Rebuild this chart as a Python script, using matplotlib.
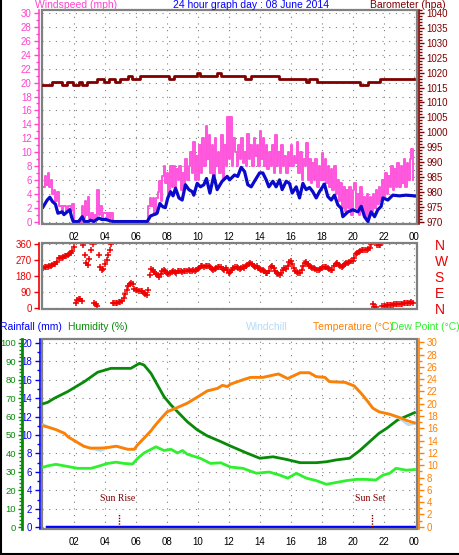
import numpy as np
import matplotlib.pyplot as plt
from matplotlib.patches import Rectangle
from matplotlib.ticker import MultipleLocator

plt.rcParams['font.family'] = ['Liberation Sans', 'DejaVu Sans']

# ---- values ----
baro_hours = [0, 0.6, 1.24, 1.56, 1.95, 2.3, 2.53, 2.85, 3.5, 3.93, 4.25, 4.68, 5.0, 5.48, 5.76, 6.25,
              8.13, 8.45, 9.96, 10.17, 11.25, 11.47, 13.02, 13.45, 15.23, 16.96, 17.2, 17.69,
              20.45, 20.98, 21.78, 24.0]
baro_hpa = [1016, 1017, 1016, 1017, 1016, 1017, 1016, 1017, 1018, 1017, 1018, 1017, 1018, 1019, 1018, 1019,
            1018, 1019, 1020, 1019, 1020, 1019, 1018, 1019, 1018, 1017, 1018, 1017,
            1016, 1017, 1018, 1018]

# gust every 6 minutes
gust_hours = np.arange(0, 24, 0.1)
gust_mph = [5.0, 6.5, 5.2, 7.0, 5.0, 6.0, 4.0, 4.5, 3.0, 4.2,
            2.3, 2.3, 1.3, 2.3, 2.3, 1.5, 2.3, 2.3, 1.5, 2.5,
            0.0, 0.0, 0.0, 0.0, 0.0, 2.3, 0.5, 3.0, 1.0, 3.5,
            0.5, 1.2, 0.0, 1.0, 0.2, 4.6, 1.0, 2.3, 0.5, 1.2,
            1.2, 0.3, 1.2, 0.5, 1.2, 0.0, 0.0, 0.0, 0.0, 0.0,
            0.0, 0.0, 0.0, 0.0, 0.0, 0.0, 0.0, 0.0, 0.0, 0.0,
            0.0, 0.0, 0.0, 0.0, 0.0, 0.0, 0.0, 0.0, 2.3, 3.4,
            2.3, 3.4, 1.0, 3.4, 4.2, 5.8, 3.0, 6.5, 8.0, 5.5,
            7.0, 4.0, 8.0, 5.0, 8.0, 4.5, 7.5, 6.0, 8.0, 4.5,
            7.0, 5.0, 9.0, 6.0, 8.0, 10.0, 7.0, 11.5, 6.0, 9.5,
            6.0, 11.0, 7.0, 12.0, 8.0, 13.7, 9.0, 12.5, 7.0, 11.0,
            6.5, 12.0, 8.0, 10.0, 7.0, 12.5, 6.0, 11.0, 8.0, 15.0,
            9.0, 15.0, 8.0, 12.0, 10.0, 8.0, 11.0, 9.0, 12.0, 8.5,
            10.0, 8.0, 12.6, 9.0, 11.0, 8.0, 12.0, 9.5, 11.0, 8.0,
            13.0, 9.0, 12.0, 8.0, 11.0, 7.5, 10.0, 8.0, 11.0, 7.0,
            12.5, 8.0, 10.0, 7.0, 11.0, 8.0, 9.5, 7.0, 10.0, 8.0,
            11.0, 8.0, 9.5, 8.5, 11.5, 7.0, 10.0, 6.0, 9.0, 8.0,
            11.3, 6.0, 9.0, 5.5, 8.5, 6.0, 9.0, 5.0, 8.0, 6.0,
            9.8, 6.0, 9.0, 5.5, 8.0, 5.0, 7.5, 4.5, 8.0, 4.0,
            6.0, 3.0, 5.5, 2.0, 5.0, 1.5, 4.5, 2.0, 5.0, 1.0,
            4.5, 5.5, 2.0, 4.0, 1.0, 5.0, 1.5, 3.5, 0.5, 4.0,
            1.0, 3.5, 1.5, 4.0, 2.0, 4.5, 2.5, 5.0, 3.0, 6.0,
            3.5, 7.0, 4.0, 6.5, 5.0, 8.0, 4.5, 7.5, 5.0, 8.5,
            5.0, 8.0, 5.5, 9.0, 5.0, 8.5, 6.0, 9.0, 10.5, 6.0]

avg_hours = [0, 0.27, 0.44, 0.6, 0.8, 0.96, 1.24, 1.35, 1.56, 1.73, 1.84, 1.95, 2.3, 2.53, 2.68, 2.9,
             3.07, 3.28, 3.6, 3.8, 4.04, 4.36, 4.53, 6.73, 6.94, 7.16, 7.37, 7.55, 7.7, 7.9, 8.06,
             8.24, 8.4, 8.56, 8.78, 8.99, 9.2, 9.42, 9.64, 9.74, 9.96, 10.17, 10.39, 10.56, 10.78,
             11.03, 11.25, 11.57, 11.9, 12.05, 12.37, 12.58, 12.8, 13.02, 13.23, 13.45, 13.66, 13.99,
             14.2, 14.42, 14.59, 14.85, 15.06, 15.28, 15.45, 15.71, 15.92, 16.1, 16.36, 16.57, 16.79,
             17.0, 17.22, 17.43, 17.65, 17.86, 18.18, 18.4, 18.62, 18.83, 19.05, 19.27, 19.37, 19.7,
             20.02, 20.34, 20.56, 20.77, 20.99, 21.2, 21.42, 21.63, 21.85, 21.96, 22.28, 22.6, 23.03,
             23.46, 24.0]
avg_mph = [2.1, 3.1, 3.5, 2.9, 2.5, 1.2, 1.4, 1.0, 1.4, 1.7, 0.7, 0.0, 0.0, 0.7, 0.0, 0.0,
           0.2, 0.0, 0.5, 0.3, 0.3, 0.1, 0.0, 0.0, 0.8, 1.0, 1.2, 2.6, 2.2, 2.0, 3.4,
           4.3, 3.7, 4.8, 3.4, 3.1, 5.3, 4.6, 4.3, 3.8, 5.5, 5.0, 5.3, 6.2, 4.1,
           6.6, 4.6, 5.8, 6.5, 6.0, 6.7, 6.5, 7.8, 7.2, 5.3, 5.0, 5.8, 7.0,
           7.0, 6.0, 5.0, 5.8, 5.0, 6.0, 4.6, 5.8, 5.5, 4.1, 5.0, 3.4, 5.5,
           4.6, 4.9, 4.3, 3.4, 4.3, 5.4, 3.6, 3.1, 3.8, 2.4, 1.9, 0.7, 1.4,
           1.7, 1.4, 2.2, 0.7, 0.0, 1.4, 0.7, 1.7, 2.2, 3.4, 3.1, 3.8, 3.7,
           3.8, 3.7]

# wind direction every 6 minutes (degrees)
dir_hours = np.arange(0, 24, 0.1)
dir_deg = [228, 230, 232, 234, 236, 240, 244, 248, 250, 262,
           280, 282, 284, 290, 295, 296, 300, 303, 308, 320,
           345, 30, 48, 52, 50, 40, 355, 300, 255, 245,
           275, 330, 360, 30, 25, 15, 300, 230, 215, 220,
           250, 270, 300, 330, 360, 32, 32, 32, 32, 33,
           33, 40, 60, 80, 100, 125, 138, 140, 135, 110,
           100, 100, 99, 98, 98, 88, 78, 75, 100, 185,
           220, 215, 205, 195, 185, 178, 195, 210, 218, 210,
           200, 195, 197, 205, 210, 205, 200, 208, 212, 212,
           205, 210, 212, 212, 215, 210, 212, 214, 212, 215,
           220, 228, 235, 238, 232, 238, 235, 240, 232, 222,
           216, 222, 228, 232, 234, 230, 222, 215, 225, 218,
           200, 205, 215, 225, 232, 234, 225, 220, 228, 230,
           225, 235, 245, 250, 253, 248, 240, 234, 236, 228,
           222, 218, 215, 208, 200, 197, 210, 230, 238, 225,
           210, 200, 190, 187, 200, 215, 225, 222, 240, 258,
           268, 250, 225, 210, 206, 198, 197, 215, 240, 255,
           262, 250, 238, 230, 225, 228, 222, 218, 215, 220,
           225, 230, 234, 234, 228, 222, 218, 215, 235, 250,
           257, 245, 238, 234, 240, 248, 253, 255, 260, 265,
           268, 285, 305, 312, 318, 322, 325, 326, 328, 330,
           332, 340, 360, 25, 10, 5, 355, 358, 356, 15,
           14, 15, 16, 17, 18, 20, 20, 22, 22, 24,
           24, 25, 26, 27, 27, 28, 30, 32, 33, 32]

temp_hours = [0, 0.3, 0.8, 1.35, 1.6, 2.2, 2.6, 3.0, 3.7, 4.2, 4.7, 5.0, 5.44, 5.87, 6.08, 6.5, 6.95,
              7.16, 7.6, 8.0, 8.67, 9.3, 9.96, 10.6, 11.25, 11.57, 11.9, 12.1, 12.9, 13.4, 14.2, 15.2,
              15.8, 16.6, 17.2, 17.65, 18.2, 18.5, 19.5, 20.1, 20.55, 21.0, 21.3, 21.7, 22.4, 23.0,
              23.6, 24.0]
temp_c = [16.4, 16.2, 15.8, 15.2, 14.6, 13.7, 13.1, 12.8, 12.8, 12.9, 13.1, 12.9, 12.6, 12.6, 13.3, 14.4, 15.6,
          16.3, 17.6, 18.7, 19.4, 20.1, 21.1, 22.1, 22.5, 23.0, 22.8, 23.2, 23.9, 24.3, 24.3, 24.85,
          24.1, 25.05, 25.05, 24.4, 24.3, 23.6, 23.5, 22.9, 21.7, 20.3, 19.3, 18.7, 18.3, 17.8,
          17.2, 16.9]
windchill_c = [16.6, 16.2, 15.8, 15.2, 14.6, 13.7, 13.1, 12.8, 12.4, 12.9, 13.1, 12.9, 12.6, 12.6, 13.3, 14.4, 15.6,
               16.3, 17.6, 18.7, 19.4, 20.1, 21.1, 22.1, 22.5, 23.0, 22.8, 23.2, 23.9, 24.3, 24.3, 24.85,
               24.1, 25.05, 25.05, 24.4, 24.3, 23.6, 23.5, 22.9, 21.7, 20.3, 19.3, 18.7, 18.3, 17.7,
               16.6, 16.8]

hum_hours = [0, 0.27, 0.7, 1.56, 2.64, 3.5, 4.36, 5.65, 6.2, 6.5, 6.95, 7.37, 7.8, 8.24, 8.88, 9.3, 9.96,
             10.6, 11.47, 12.1, 13.1, 13.99, 14.85, 15.7, 16.6, 17.65, 18.3, 18.94, 19.8, 20.45, 21.1,
             21.7, 22.2, 22.9, 23.4, 24.0]
hum_pct = [67.0, 67.7, 69.9, 73.5, 78.9, 84.0, 86.1, 86.1, 88.8, 87.9, 83.4, 77.1, 70.7, 66.3, 60.8, 57.2, 52.7,
           49.5, 46.4, 44.0, 40.4, 37.4, 38.2, 36.8, 35.0, 35.0, 35.5, 36.5, 37.4, 41.5, 46.4,
           50.9, 53.6, 58.1, 59.9, 62.1]

dew_hours = [0, 0.27, 0.8, 1.56, 2.2, 3.07, 3.5, 4.15, 4.7, 5.2, 5.76, 6.08, 6.5, 7.27, 7.8, 8.24, 8.67,
             8.99, 9.3, 10.17, 10.8, 11.47, 12.1, 12.9, 13.77, 14.6, 15.28, 15.8, 16.36, 17.0, 17.65,
             18.3, 18.94, 19.59, 20.23, 20.88, 21.5, 21.96, 22.4, 22.8, 23.46, 24.0]
dew_c = [9.7, 9.9, 10.15, 9.8, 9.5, 9.5, 9.8, 10.3, 10.5, 10.3, 10.2, 11.1, 12.0, 13.0, 12.4, 12.6, 12.0,
         12.4, 11.8, 11.1, 10.3, 10.4, 9.7, 9.5, 8.7, 8.9, 8.4, 7.9, 8.7, 7.9, 7.5,
         6.9, 7.2, 7.5, 7.7, 7.7, 7.6, 8.4, 8.7, 9.5, 9.2, 9.3]

rain_hours = [0.25, 24.0]
rain_mm = [0, 0]

sunrise_h = 4.87
sunset_h = 21.24

hour_ticks = list(range(2, 25, 2))
hour_labels = ['%02d' % (h % 24) for h in hour_ticks]

# ---- styling ----
W, H = 459, 555
GRAY = '#808080'
MAG = '#ff44cc'
PINK = '#ff55dd'
BLUE = '#0a0acc'
DRED = '#800000'
RED = '#ee0000'
DGREEN = '#078a07'
LGREEN = '#2ef02e'
ORANGE = '#ff8000'
CHILL = '#b4daf7'
XL = (-0.1, 24.13)
grid_kw = dict(color=GRAY, lw=0.8, ls=(0, (1, 5)))


def box(l, t, r, b):
    return [l / W, 1 - b / H, (r - l) / W, (b - t) / H]


def frame(ax):
    for s in ax.spines.values():
        s.set_visible(False)
    ax.add_patch(Rectangle((0, 0), 1, 1, transform=ax.transAxes, fill=False,
                           ec=GRAY, lw=1.6, clip_on=False, zorder=10))


def side(ax, which, color, out, lw=1.2):
    sp = ax.spines[which]
    sp.set_visible(True)
    sp.set_color(color)
    sp.set_linewidth(lw)
    sp.set_position(('outward', out))
    ax.tick_params(axis='y', which='both', colors=color, labelsize=7, direction='out')
    ax.tick_params(axis='y', which='major', length=3.5, width=1, pad=2)
    ax.tick_params(axis='y', which='minor', length=2, width=1)


fig = plt.figure(figsize=(W / 100, H / 100), dpi=100)

# ---- top panel: wind speed + barometer ----
ax1 = fig.add_axes(box(41.5, 10, 416.5, 224))
frame(ax1)
ax1.set_xlim(XL)
ax1.set_ylim(-0.35, 30.45)
ax1.step(gust_hours, gust_mph, where='post', color=PINK, lw=1.4)
ax1.plot(avg_hours, avg_mph, color=BLUE, lw=2.3)
ax1.set_xticks(hour_ticks)
ax1.set_xticklabels(hour_labels)
ax1.tick_params(axis='x', length=0, labelsize=7, pad=6)
ax1.yaxis.set_major_locator(MultipleLocator(2))
ax1.yaxis.set_minor_locator(MultipleLocator(1))
side(ax1, 'left', MAG, 1.5)
ax1.grid(True, **grid_kw)

ax1b = ax1.twinx()
for s in ax1b.spines.values():
    s.set_visible(False)
ax1b.set_ylim(969.2, 1041.05)
ax1b.step(baro_hours, baro_hpa, where='post', color=DRED, lw=2)
ax1b.yaxis.set_major_locator(MultipleLocator(5))
ax1b.yaxis.set_minor_locator(MultipleLocator(1))
side(ax1b, 'right', DRED, 1.5)

# ---- middle panel: wind direction ----
ax2 = fig.add_axes(box(41.5, 243, 416.5, 309))
frame(ax2)
ax2.set_xlim(XL)
ax2.set_ylim(-4, 367)
ax2.plot(dir_hours, dir_deg, '+', color=RED, ms=4.2, mew=1.1)
ax2.set_xticks(hour_ticks)
ax2.tick_params(axis='x', length=0, labelbottom=False)
ax2.set_yticks([0, 90, 180, 270, 360])
side(ax2, 'left', RED, 1.5)
ax2.grid(True, **grid_kw)

ax2r = ax2.twinx()
for s in ax2r.spines.values():
    s.set_visible(False)
ax2r.set_ylim(-4, 367)
ax2r.set_yticks([0, 90, 180, 270, 360])
ax2r.set_yticklabels(['N', 'E', 'S', 'W', 'N'])
ax2r.tick_params(axis='y', length=0, colors=RED, labelsize=10, pad=13)

# ---- bottom panel: rain, humidity, temperature ----
ax3 = fig.add_axes(box(42, 339, 416.5, 529))
frame(ax3)
ax3.set_xlim(XL)
ax3.set_ylim(-0.18, 20.4)
ax3.plot(rain_hours, rain_mm, color='#0000ff', lw=2.5)
ax3.set_xticks(hour_ticks)
ax3.set_xticklabels(hour_labels)
ax3.tick_params(axis='x', length=0, labelsize=7, pad=6)
ax3.yaxis.set_major_locator(MultipleLocator(2))
ax3.yaxis.set_minor_locator(MultipleLocator(1))
side(ax3, 'left', '#0000ff', 1.5)
ax3.grid(True, **grid_kw)
ax3.vlines(sunrise_h, 0, 1.55, color=DRED, lw=1, ls=(0, (1, 1)))
ax3.vlines(sunset_h, 0, 1.55, color=DRED, lw=1, ls=(0, (1, 1)))
ax3.text(sunrise_h - 0.05, 3.15, 'Sun Rise', color=DRED, fontsize=7,
         family='Liberation Serif', ha='center', va='center')
ax3.text(sunset_h - 0.1, 3.15, 'Sun Set', color=DRED, fontsize=7,
         family='Liberation Serif', ha='center', va='center')

axH = ax3.twinx()
for s in axH.spines.values():
    s.set_visible(False)
axH.set_ylim(-0.92, 102.0)
axH.yaxis.set_ticks_position('left')
axH.yaxis.set_label_position('left')
axH.yaxis.set_major_locator(MultipleLocator(10))
axH.yaxis.set_minor_locator(MultipleLocator(2))
side(axH, 'left', DGREEN, 14.4, lw=2)
axH.tick_params(axis='y', colors=DGREEN, labelsize=6.8, pad=1.2)
axH.tick_params(axis='y', which='major', length=3)
axH.plot(hum_hours, hum_pct, color=DGREEN, lw=2)

axT = ax3.twinx()
for s in axT.spines.values():
    s.set_visible(False)
axT.set_ylim(-0.37, 30.54)
axT.yaxis.set_major_locator(MultipleLocator(2))
axT.yaxis.set_minor_locator(MultipleLocator(1))
side(axT, 'right', ORANGE, 2)
axT.plot(dew_hours, dew_c, color=LGREEN, lw=2)
axT.plot(temp_hours, windchill_c, color=CHILL, lw=2)
axT.plot(temp_hours, temp_c, color=ORANGE, lw=2)

# ---- titles ----
ty = 1 - 5 / H
fig.text(35 / W, ty, 'Windspeed (mph)', color=MAG, fontsize=7.5, va='center')
fig.text(251 / W, ty, '24 hour graph day : 08 June 2014', color='#0000ff', fontsize=7.5,
         va='center', ha='center')
fig.text(446 / W, ty, 'Barometer (hpa)', color=DRED, fontsize=7.5, va='center', ha='right')

by = 1 - 327 / H
fig.text(0 / W, by, 'Rainfall (mm)', color='#0000ff', fontsize=7.5, va='center')
fig.text(68 / W, by, 'Humidity (%)', color=DGREEN, fontsize=7.5, va='center')
fig.text(246 / W, by, 'Windchill', color=CHILL, fontsize=7.5, va='center')
fig.text(313 / W, by, 'Temperature (°C)', color=ORANGE, fontsize=7.5, va='center')
fig.text(391 / W, by, 'Dew Point (°C)', color=LGREEN, fontsize=7.5, va='center')

# outer border (left and bottom edges visible)
fig.add_artist(plt.Line2D([0.5 / W, 0.5 / W], [0, 1], color='black', lw=1.5))
fig.add_artist(plt.Line2D([0, 1], [1.5 / H, 1.5 / H], color='black', lw=1.5))

fig.savefig('out.png', dpi=100)
